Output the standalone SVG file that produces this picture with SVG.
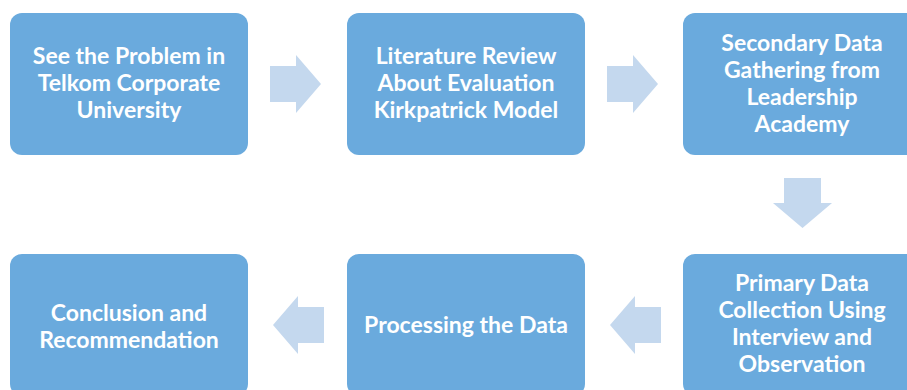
<svg xmlns="http://www.w3.org/2000/svg" width="907" height="390" viewBox="0 0 907 390">
<style>
.box{fill:#6aaadd;}
.arr{fill:#c4d8ee;}
.t{font-family:Lato,"Liberation Sans",sans-serif;font-weight:700;font-size:23px;fill:#ffffff;text-anchor:middle;}
</style>
<rect width="907" height="390" fill="#ffffff"/>
<g id="n1"><rect class="box" x="10" y="13" width="238" height="142" rx="12"/>
<text class="t" x="129" y="64">See the Problem in</text><text class="t" x="129" y="91">Telkom Corporate</text><text class="t" x="129" y="118">University</text></g>
<g id="n2"><rect class="box" x="347" y="13" width="238" height="142" rx="12"/>
<text class="t" x="466" y="64">Literature Review</text><text class="t" x="466" y="91">About Evaluation</text><text class="t" x="466" y="118">Kirkpatrick Model</text></g>
<g id="n3"><rect class="box" x="683" y="13" width="238" height="142" rx="12"/>
<text class="t" x="802" y="51">Secondary Data</text><text class="t" x="802" y="78">Gathering from</text><text class="t" x="802" y="105">Leadership</text><text class="t" x="802" y="132">Academy</text></g>
<g id="n4"><rect class="box" x="683" y="254" width="238" height="142" rx="12"/>
<text class="t" x="802" y="291">Primary Data</text><text class="t" x="802" y="318">Collection Using</text><text class="t" x="802" y="345">Interview and</text><text class="t" x="802" y="372">Observation</text></g>
<g id="n5"><rect class="box" x="347" y="254" width="238" height="142" rx="12"/>
<text class="t" x="466" y="333">Processing the Data</text></g>
<g id="n6"><rect class="box" x="10" y="254" width="238" height="142" rx="12"/>
<text class="t" x="129" y="321">Conclusion and</text><text class="t" x="129" y="348">Recommendation</text></g>
<g id="connectors">
<polygon class="arr" points="270,66 296,66 296,55 321,84 296,113 296,102 270,102"/>
<polygon class="arr" points="607,66 633,66 633,55 658,84 633,113 633,102 607,102"/>
<polygon class="arr" points="784,178 821,178 821,203 832,203 802.5,228 773,203 784,203"/>
<polygon class="arr" points="661,307 635,307 635,296 610,325 635,354 635,343 661,343"/>
<polygon class="arr" points="324,307 298,307 298,296 273,325 298,354 298,343 324,343"/>
</g>
</svg>
